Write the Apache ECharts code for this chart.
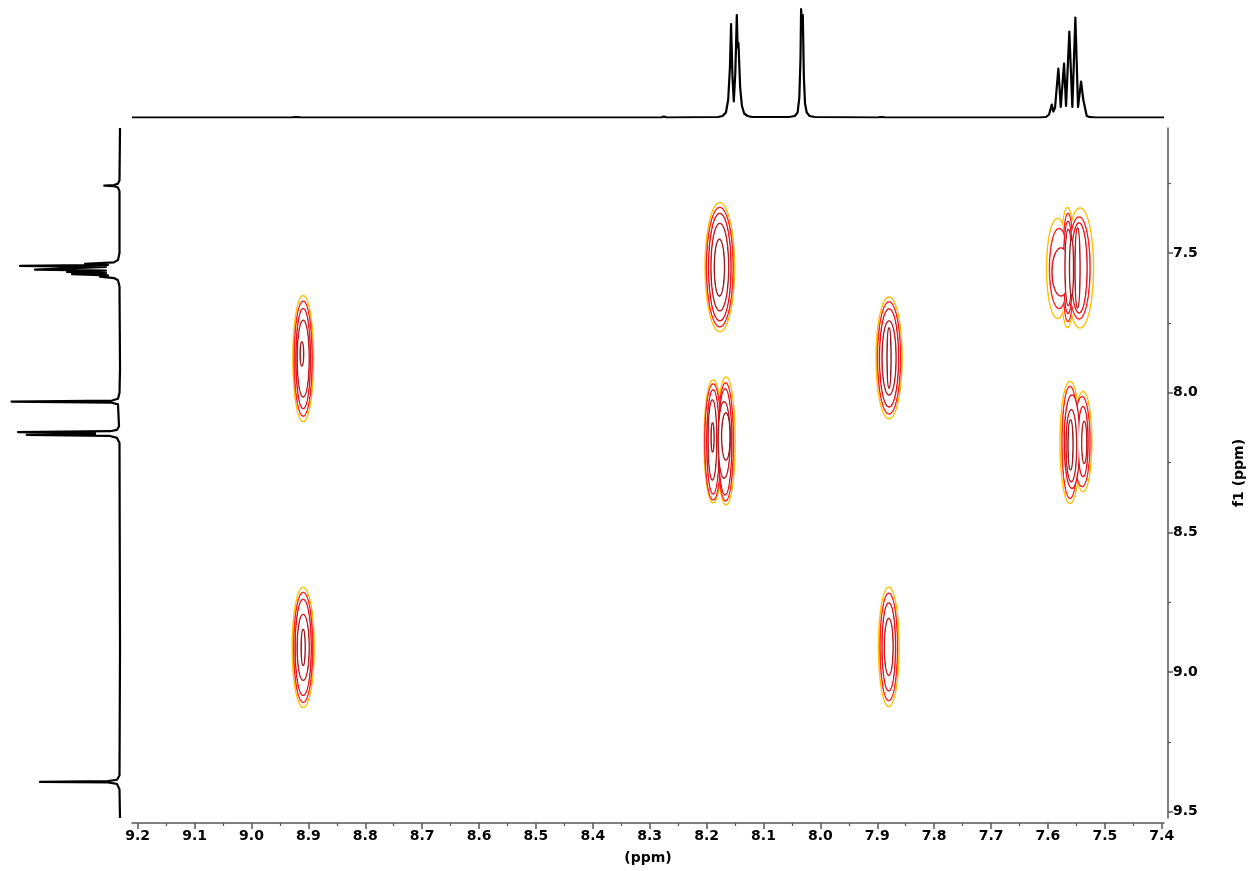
<!DOCTYPE html>
<html><head><meta charset="utf-8">
<script src="https://cdn.jsdelivr.net/npm/echarts@6.0.0/dist/echarts.min.js"></script>
<style>html,body{margin:0;padding:0;background:#fff}#c{width:1254px;height:871px}</style>
</head><body><div id="c"></div>
<script>
// ---- axis ranges & ticks (ppm) ----
const X_MIN = 7.396, X_MAX = 9.21;
const Y_MIN = 7.053, Y_MAX = 9.522;
const xTicks = [9.2,9.1,9.0,8.9,8.8,8.7,8.6,8.5,8.4,8.3,8.2,8.1,8.0,7.9,7.8,7.7,7.6,7.5,7.4];
const xMinorTicks = [9.15,9.05,8.95,8.85,8.75,8.65,8.55,8.45,8.35,8.25,8.15,8.05,7.95,7.85,7.75,7.65,7.55,7.45];
const yTicks = [7.5,8.0,8.5,9.0,9.5];
const yMinorTicks = [7.25,7.75,8.25,8.75,9.25];

// ---- top 1D spectrum (f2): chemical shift (ppm) and intensity ----
const topShift = [9.21,8.93,8.9235,8.9214,8.919,8.912,8.28,8.275,8.27,8.18,8.172,8.166,8.162,8.159,8.157,8.1545,8.1522,8.1495,8.1469,8.1455,8.144,8.141,8.138,8.134,8.128,8.12,
  8.055,8.045,8.04,8.037,8.0349,8.0339,8.0324,8.0309,8.029,8.027,8.024,8.019,8.01,
  7.90,7.895,7.8926,7.890,7.885,
  7.615,7.6033,7.598,7.5933,7.5905,7.5875,7.5817,7.5775,7.5717,7.5682,7.5624,7.5571,7.5518,7.5471,7.5418,7.5378,7.5318,7.526,7.515,7.396];
const topInt = [0,0,0.4,1.8,0.4,0,0,1,0,0.5,1.5,5,18,50,93.5,40,16,45,102.5,70,74.5,30,12,4,1.5,0.5,
  0.5,1.5,5,20,60,108.5,95,102.5,40,14,5,1.5,0.5,
  0,0.4,1.5,0.4,0,
  0,0.5,3,13,6,10,49,10.5,54,11.5,86,10.5,100,10.5,36,17.5,1.5,0.3,0,0];

// ---- left 1D spectrum (f1): chemical shift (ppm) and intensity ----
const leftShift = [7.053,7.24,7.252,7.257,7.2592,7.261,7.266,7.28,7.50,7.525,7.534,7.5394,7.543,7.5465,7.550,7.553,7.5597,7.5635,7.568,7.572,7.5762,7.5805,7.5848,7.590,7.598,7.62,
  7.905,7.911,7.917,8.00,8.022,8.028,8.032,8.036,8.042,8.12,8.133,8.138,8.141,8.1445,8.146,8.148,8.151,8.155,8.162,8.18,
  8.914,8.92,8.926,9.37,9.385,9.39,9.3927,9.395,9.40,9.42,9.522];
const leftInt = [0,0.5,2,6,15.7,6,2,0.5,0.5,2,6,35,12,100,14,16,85,14,53,14,48,12,20,6,2,0.5,
  0,2,0,0.5,2,8,108.5,8,2,1,3,10,102,25,70,25,93.3,10,3,0.5,
  0,2,0,0.5,3,12,80,12,3,0.5,0];

// ---- 2D contour cross peaks: per peak, levels outer->inner, each level = ellipses [f2 ppm, f1 ppm, half-width ppm, half-height ppm] ----
const peak_891_788 = [
  [[8.9091,7.8782,0.0181,0.2254]],
  [[8.9091,7.8782,0.0158,0.2057]],
  [[8.9091,7.8782,0.0128,0.1789]],
  [[8.9091,7.8782,0.0105,0.1370]],
  [[8.9114,7.8614,0.0030,0.0429]]
];
const peak_788_891 = [
  [[7.8798,8.9097,0.0181,0.2136]],
  [[7.8798,8.9097,0.0153,0.1921]],
  [[7.8798,8.9097,0.0118,0.1574]],
  [[7.8798,8.9097,0.0076,0.1013]]
];
const peak_817_755 = [
  [[8.1768,7.5508,0.0258,0.2308]],
  [[8.1768,7.5508,0.0234,0.2136]],
  [[8.1768,7.5508,0.0197,0.1921]],
  [[8.1768,7.5508,0.0155,0.1564]],
  [[8.1775,7.5526,0.0088,0.1013]]
];
const peak_788_788 = [
  [[7.8793,7.8757,0.0228,0.2182]],
  [[7.8793,7.8757,0.0202,0.2004]],
  [[7.8793,7.8757,0.0167,0.1753]],
  [[7.8793,7.8757,0.0123,0.1324]],
  [[7.8793,7.8757,0.0035,0.1073]]
];
const peak_891_891 = [
  [[8.9091,8.9115,0.0193,0.2147]],
  [[8.9091,8.9115,0.0167,0.1968]],
  [[8.9091,8.9115,0.0141,0.1717]],
  [[8.9091,8.9115,0.0105,0.1181]],
  [[8.9091,8.9115,0.0035,0.0644]]
];
const peak_817_817 = [
  [[8.1886,8.1744,0.0158,0.2200],[8.1657,8.1726,0.0158,0.2290]],
  [[8.1886,8.1762,0.0146,0.2075],[8.1666,8.1762,0.0137,0.2111]],
  [[8.1886,8.1762,0.0111,0.1860],[8.1675,8.1762,0.0118,0.1896]],
  [[8.1898,8.1691,0.0076,0.1431],[8.1692,8.1691,0.0105,0.1370]],
  [[8.1895,8.1601,0.0026,0.0519],[8.1661,8.1565,0.0074,0.0841]]
];
const peak_756_755 = [
  [[7.5831,7.5555,0.0193,0.1789],[7.5656,7.5519,0.0123,0.2147],[7.5436,7.5537,0.0237,0.2147]],
  [[7.5805,7.5555,0.0167,0.1431],[7.5647,7.5519,0.0097,0.1932],[7.5453,7.5537,0.0193,0.1825]],
  [[7.5770,7.5680,0.0158,0.0859],[7.5647,7.5519,0.0079,0.1646],[7.5453,7.5537,0.0141,0.1610]],
  [[7.5642,7.5519,0.0058,0.1360],[7.5480,7.5537,0.0044,0.1431]],
  [[7.5585,7.5519,0.0035,0.1002]]
];
const peak_756_817 = [
  [[7.5612,8.1780,0.0176,0.2182],[7.5383,8.1751,0.0153,0.1789]],
  [[7.5612,8.1780,0.0141,0.2004],[7.5401,8.1751,0.0141,0.1610]],
  [[7.5577,8.1751,0.0137,0.1671],[7.5383,8.1751,0.0088,0.1252]],
  [[7.5589,8.1898,0.0093,0.1288],[7.5362,8.1780,0.0044,0.0751]],
  [[7.5603,8.1869,0.0044,0.0894]]
];
const contourPeaks = [peak_891_788, peak_788_891, peak_817_755, peak_788_788, peak_891_891, peak_817_817, peak_756_755, peak_756_817];
const contourColors = ['#FFC000','#FF2020','#E5131C','#BF1A1E','#9A1B20'];

// ---- build series data ----
const topData = topShift.map((s,i)=>[s, topInt[i]]);
const leftData = leftShift.map((s,i)=>[leftInt[i], s]);
const contourData = [];
contourPeaks.forEach((pk,p)=>pk.forEach((lv,l)=>contourData.push([lv[0][0], lv[0][1], p, l])));

function ellipsePts(api, e, shrink){
  const c = api.coord([e[0], e[1]]);
  const s = api.size([e[2], e[3]]);
  const rx = Math.max(s[0]-shrink, 0.3), ry = Math.max(s[1]-shrink, 0.3);
  const pts = [];
  const n = 90;
  for(let i=0;i<n;i++){const t=i/n*2*Math.PI; pts.push([c[0]+rx*Math.cos(t), c[1]+ry*Math.sin(t)]);}
  return pts;
}
function renderContour(params, api){
  const p = api.value(2), l = api.value(3);
  const ells = contourPeaks[p][l];
  const children = [];
  ells.forEach(e=>children.push({type:'polygon', z2:l*2, shape:{points:ellipsePts(api,e,0)},
    style:{fill:null, stroke:contourColors[l], lineWidth:1.5}}));
  ells.forEach(e=>children.push({type:'polygon', z2:l*2+1, shape:{points:ellipsePts(api,e,0.9)},
    style:{fill:'#fff', stroke:null}}));
  return {type:'group', children};
}

const font = {fontFamily:'DejaVu Sans', fontWeight:'bold', fontSize:14, color:'#000'};
const axisCol = '#555';
const chart = echarts.init(document.getElementById('c'), null, {renderer:'canvas'});
chart.setOption({
  animation:false,
  backgroundColor:'#fff',
  grid:[
    {left:132, top:128, width:1032, height:690},
    {left:132, top:7.5, width:1032, height:110},
    {left:0, top:128, width:120, height:690}
  ],
  xAxis:[
    {gridIndex:0, type:'value', min:X_MIN, max:X_MAX, inverse:true, position:'bottom', offset:5,
      axisLine:{show:true, onZero:false, lineStyle:{color:axisCol, width:1.5}},
      axisTick:{show:true, customValues:xTicks, length:6, lineStyle:{color:axisCol, width:1.5}},
      axisLabel:Object.assign({customValues:xTicks, formatter:v=>v.toFixed(1), margin:6}, font),
      splitLine:{show:false},
      name:'(ppm)', nameLocation:'middle', nameGap:28, nameTextStyle:font},
    {gridIndex:0, type:'value', min:X_MIN, max:X_MAX, inverse:true, position:'bottom', offset:5,
      axisLine:{show:false, onZero:false},
      axisTick:{show:true, customValues:xMinorTicks, length:3, lineStyle:{color:axisCol, width:1.2}},
      axisLabel:{show:false}, splitLine:{show:false}},
    {gridIndex:1, type:'value', min:X_MIN, max:X_MAX, inverse:true, show:false},
    {gridIndex:2, type:'value', min:0, max:120, inverse:true, show:false}
  ],
  yAxis:[
    {gridIndex:0, type:'value', min:Y_MIN, max:Y_MAX, inverse:true, position:'right', offset:4,
      axisLine:{show:true, onZero:false, lineStyle:{color:axisCol, width:1.5}},
      axisTick:{show:true, customValues:yTicks, length:5, lineStyle:{color:axisCol, width:1.5}},
      axisLabel:Object.assign({customValues:yTicks, formatter:v=>v.toFixed(1), margin:5}, font),
      splitLine:{show:false},
      name:'f1 (ppm)', nameLocation:'middle', nameRotate:90, nameGap:64, nameTextStyle:font},
    {gridIndex:0, type:'value', min:Y_MIN, max:Y_MAX, inverse:true, position:'right', offset:4,
      axisLine:{show:false, onZero:false},
      axisTick:{show:true, customValues:yMinorTicks, length:3, lineStyle:{color:axisCol, width:1.2}},
      axisLabel:{show:false}, splitLine:{show:false}},
    {gridIndex:1, type:'value', min:0, max:110, show:false},
    {gridIndex:2, type:'value', min:Y_MIN, max:Y_MAX, inverse:true, show:false}
  ],
  series:[
    {type:'custom', xAxisIndex:0, yAxisIndex:0, renderItem:renderContour, data:contourData,
      encode:{x:0, y:1}, clip:true, silent:true},
    {type:'line', xAxisIndex:2, yAxisIndex:2, data:topData, showSymbol:false, silent:true,
      lineStyle:{color:'#000', width:2.2, join:'round'}},
    {type:'line', xAxisIndex:3, yAxisIndex:3, data:leftData, showSymbol:false, silent:true,
      lineStyle:{color:'#000', width:2.2, join:'round'}}
  ]
});
</script></body></html>
